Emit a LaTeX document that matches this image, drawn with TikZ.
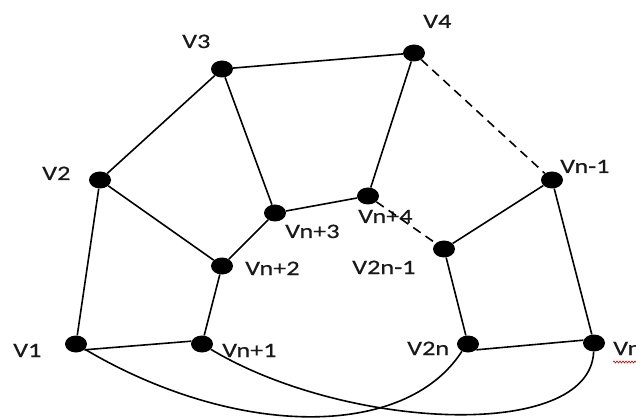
\documentclass[tikz,border=0pt]{standalone}
\usepackage{fontspec}
\setmainfont{Carlito}[FakeStretch=1.28,FakeBold=0.5]
\usetikzlibrary{shapes.geometric,decorations.pathmorphing}
\tikzset{
  dot/.style={ellipse,fill=black,draw=none,minimum width=22pt,minimum height=17pt,inner sep=0pt},
  lbl/.style={anchor=base west,inner sep=0pt,font=\fontsize{20.5}{24}\selectfont,text=black!90},
  edge/.style={line width=1.6pt,black},
  dashedge/.style={line width=1.6pt,black,dash pattern=on 9pt off 6pt}
}
\begin{document}
\begin{tikzpicture}[x=1pt,y=-1pt]
\useasboundingbox (0,0) rectangle (636,419);
\fill[white] (0,0) rectangle (636,419);
% vertices
\node[dot] (v1)   at (76,344)  {};
\node[dot] (vn1)  at (202,344) {};
\node[dot] (v2)   at (100,180) {};
\node[dot] (vn2)  at (222,266) {};
\node[dot] (v3)   at (222,69)  {};
\node[dot] (vn3)  at (275,213) {};
\node[dot] (v4)   at (414,53)  {};
\node[dot] (vn4)  at (368,196) {};
\node[dot] (vnm1) at (552,180) {};
\node[dot] (v2nm1) at (444,249) {};
\node[dot] (v2n)  at (468,344) {};
\node[dot] (vn)   at (594,343) {};
% labels
\node[lbl] (l1)   at (13,357)  {V1};
\node[lbl] (ln1)  at (222,357) {Vn+1};
\node[lbl] (l2)   at (42,180)  {V2};
\node[lbl] (ln2)  at (245,275) {Vn+2};
\node[lbl] (l3)   at (182,48)  {V3};
\node[lbl] (l4)   at (423,28)  {V4};
\node[lbl] (ln3)  at (285,238) {Vn+3};
\node[lbl] (ln4)  at (358,223) {Vn+4};
\node[lbl] (l2nm1) at (352,274) {V2n-1};
\node[lbl] (lnm1) at (560,173) {Vn-1};
\node[lbl] (l2n)  at (407,355) {V2n};
\node[lbl] (ln)   at (613,355) {Vn};
\coordinate (wa) at (613,362);
\coordinate (wb) at (640,362);
\draw[red!80!black,line width=0.6pt,decorate,decoration={snake,segment length=3pt,amplitude=1pt}] (wa) -- (wb);
% edges
\draw[edge] (v1.-35) -- (vn1.165);
\draw[edge] (v1) -- (v2);
\draw[edge] (v2) -- (v3);
\draw[edge] (v2) -- (vn2);
\draw[edge] (vn2) -- (vn1);
\draw[edge] (vn2) -- (vn3);
\draw[edge] (vn3) -- (v3);
\draw[edge] (v3) -- (v4);
\draw[edge] (v4) -- (vn4);
\draw[edge] (vn3) -- (vn4);
\draw[dashedge] (vn4) -- (v2nm1);
\draw[dashedge] (v4) -- (vnm1);
\draw[edge] (vnm1) -- (v2nm1);
\draw[edge] (vnm1) -- (vn);
\draw[edge] (v2nm1) -- (v2n);
\draw[edge] (v2n.-35) -- (vn.165);
% long curves
\draw[edge] (v1) .. controls (235,438) and (405,440) .. (v2n.-130);
\draw[edge] (vn1) .. controls (345,430) and (590,442) .. (vn);
\end{tikzpicture}
\end{document}
